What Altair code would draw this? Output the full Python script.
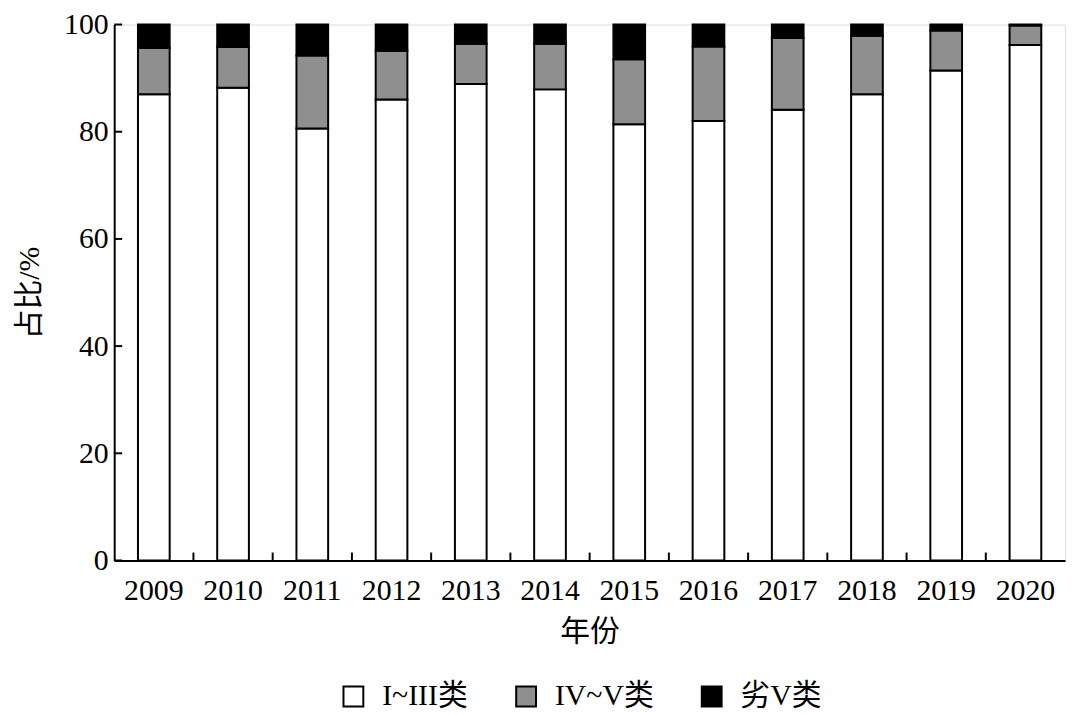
import altair as alt
import pandas as pd

years = ["2009", "2010", "2011", "2012", "2013", "2014", "2015", "2016", "2017", "2018", "2019", "2020"]
grade_1_3 = [87.0, 88.2, 80.6, 86.0, 88.9, 87.9, 81.4, 82.0, 84.1, 87.0, 91.4, 96.2]
grade_4_5 = [8.6, 7.6, 13.6, 9.1, 7.5, 8.5, 12.1, 13.9, 13.4, 10.9, 7.5, 3.6]
worse_5 = [4.4, 4.2, 5.8, 4.9, 3.6, 3.6, 6.5, 4.1, 2.5, 2.1, 1.1, 0.2]
categories = ["I~III类", "IV~V类", "劣V类"]
colors = ["#ffffff", "#8f8f8f", "#000000"]
y_ticks = [0, 20, 40, 60, 80, 100]

rows = []
for i, y in enumerate(years):
    for k, (cat, vals) in enumerate(zip(categories, [grade_1_3, grade_4_5, worse_5])):
        rows.append({"year": y, "cat": cat, "val": vals[i], "ord": k})
df = pd.DataFrame(rows)
xtick_df = pd.DataFrame({"year": years[1:]})
ytick_df = pd.DataFrame({"val": y_ticks})

FONT = "Liberation Serif, Times New Roman, Noto Sans CJK SC"
txt = dict(labelFont=FONT, titleFont=FONT, labelFontSize=30, titleFontSize=30,
           labelColor="black", titleColor="black", titleFontWeight="normal")

W, H = 958, 540
xscale = alt.Scale(domain=years, paddingInner=0.6, paddingOuter=0.3)
yscale = alt.Scale(domain=[0, 100], nice=False)

bars = alt.Chart(df).mark_bar(stroke="black", strokeWidth=2).encode(
    x=alt.X("year:N", scale=xscale, sort=years,
            axis=alt.Axis(title="年份", orient="bottom", ticks=False, labelAngle=0,
                          labelPadding=15, titlePadding=12, domainWidth=2, domainColor="black",
                          **txt)),
    y=alt.Y("val:Q", stack="zero", scale=yscale,
            axis=alt.Axis(title="占比/%", orient="left", values=y_ticks,
                          ticks=False, labelPadding=6, titlePadding=19, grid=False,
                          domainWidth=2, domainColor="black", **txt)),
    color=alt.Color("cat:N", scale=alt.Scale(domain=categories, range=colors),
                    legend=alt.Legend(title=None, orient="none", direction="horizontal",
                                      legendX=226, legendY=662, symbolType="square",
                                      symbolSize=400, symbolStrokeColor="black",
                                      symbolStrokeWidth=2, symbolOpacity=1,
                                      labelFontSize=30, labelFont=FONT, labelColor="black",
                                      labelOffset=14, columnPadding=43)),
    order=alt.Order("ord:Q", sort="ascending"),
)

step = W / len(years)
xticks = alt.Chart(xtick_df).mark_rule(color="black", strokeWidth=2, xOffset=-0.3 * step).encode(
    x=alt.X("year:N", scale=xscale, bandPosition=0),
    y=alt.value(H), y2=alt.value(H - 8),
)

yticks = alt.Chart(ytick_df).mark_rule(color="black", strokeWidth=2).encode(
    y=alt.Y("val:Q", scale=yscale),
    x=alt.value(0), x2=alt.value(8),
)

chart = alt.layer(bars, xticks, yticks).properties(
    width=W, height=H,
    autosize=alt.AutoSizeParams(type="none"),
    padding={"left": 107, "top": 14, "right": 7, "bottom": 150},
).configure_view(stroke="black", strokeWidth=2).configure(background="white")

chart.save("out.html", embed_options={"renderer": "svg", "actions": False})
